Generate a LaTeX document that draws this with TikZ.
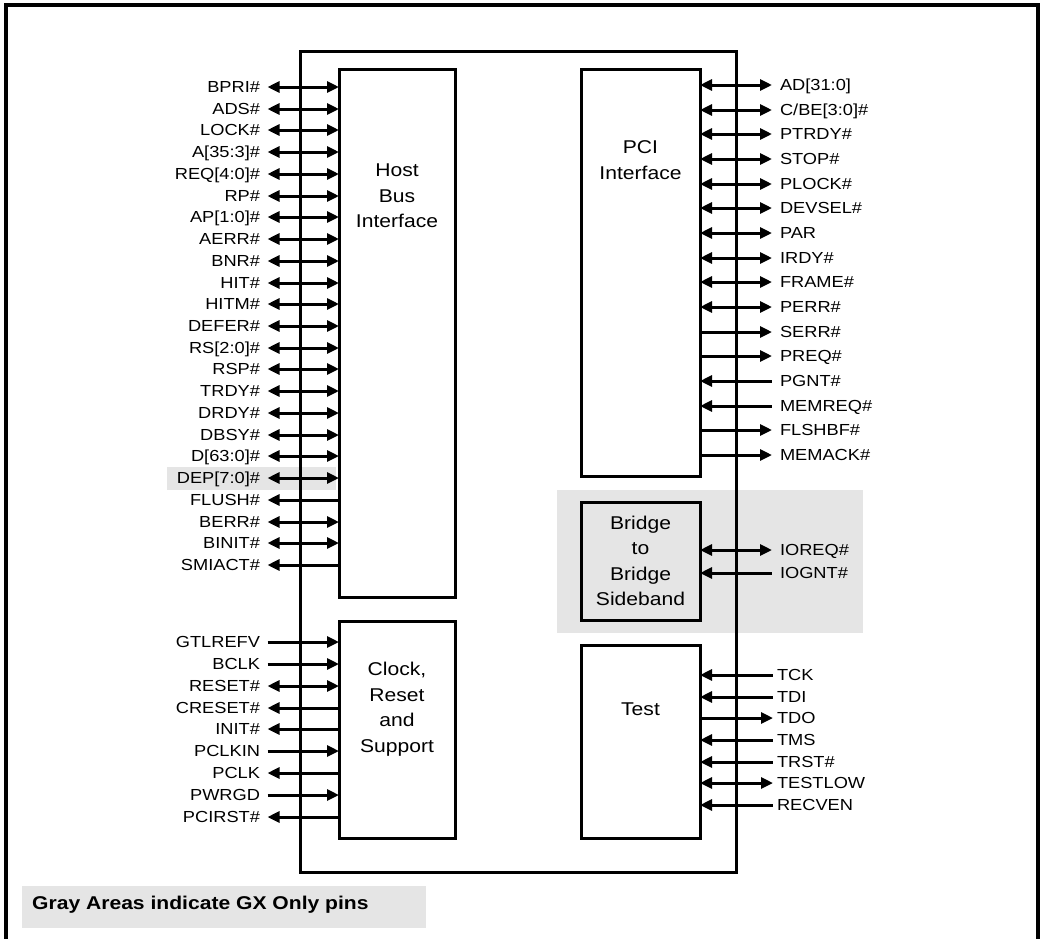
\documentclass[tikz,border=0pt]{standalone}
\usepackage{fontspec}
\setmainfont{Liberation Sans}[FakeStretch=1.14]
\usetikzlibrary{arrows.meta}
\definecolor{gxgray}{RGB}{229,229,229}
\begin{document}
\begin{tikzpicture}[x=1pt,y=-1pt,
  >={Triangle[length=12pt,width=11pt]},
  blk/.style={draw,line width=3pt,inner sep=0pt,outer sep=0pt},
  lbl/.style={inner sep=0pt,outer sep=0pt,font=\fontsize{16}{19}\selectfont,text height=11.5pt,text depth=0pt},
  boxtxt/.style={inner sep=0pt,align=center,font=\fontsize{18.5}{25.5}\selectfont},
  sig/.style={line width=3pt},
  frame/.style={line width=3.5pt}]
\useasboundingbox (0,0) rectangle (1041,938);
% gray areas
\fill[gxgray] (167,467) rectangle (336,490);
\fill[gxgray] (557,490) rectangle (863,633);
\fill[gxgray] (22,886) rectangle (426,928);
% outer frame
\draw[frame] (6,940) -- (6,5) -- (1038,5) -- (1038,940);
% chip and blocks
\node[blk,minimum width=436,minimum height=821] (chip) at (518,461.5) {};
\node[blk,minimum width=116,minimum height=528] (host) at (397,333) {};
\node[blk,minimum width=116,minimum height=217] (clock) at (397,729.5) {};
\node[blk,minimum width=119,minimum height=407] (pci) at (640.5,272.5) {};
\node[blk,minimum width=119,minimum height=118] (bridge) at (640.5,561) {};
\node[blk,minimum width=119,minimum height=193] (test) at (640.5,741.5) {};
% block texts
\node[boxtxt] (hosttxt) at (397,196) {Host\\Bus\\Interface};
\node[boxtxt] (pcitxt) at (640.5,160) {PCI\\Interface};
\node[boxtxt] (bridgetxt) at (640.5,561) {Bridge\\to\\Bridge\\Sideband};
\node[boxtxt] (clocktxt) at (397,709) {Clock,\\Reset\\and\\Support};
\node[boxtxt] (testtxt) at (640.5,709) {Test};
% host bus signals
\foreach \t/\d [count=\i from 0] in {{BPRI\#}/<->,{ADS\#}/<->,{LOCK\#}/<->,{A[35:3]\#}/<->,{REQ[4:0]\#}/<->,{RP\#}/<->,{AP[1:0]\#}/<->,{AERR\#}/<->,{BNR\#}/<->,{HIT\#}/<->,{HITM\#}/<->,{DEFER\#}/<->,{RS[2:0]\#}/<->,{RSP\#}/<->,{TRDY\#}/<->,{DRDY\#}/<->,{DBSY\#}/<->,{D[63:0]\#}/<->,{DEP[7:0]\#}/<->,{FLUSH\#}/<-,{BERR\#}/<->,{BINIT\#}/<->,{SMIACT\#}/<-}{
  \node[lbl,anchor=east] (L\i) at (260,{round(87+21.73*\i)}) {\t};
  \draw[sig,\d] ([xshift=7.5pt]L\i.east) -- (L\i.east -| host.west);
}
% clock signals
\foreach \t/\d [count=\i from 0] in {{GTLREFV}/->,{BCLK}/->,{RESET\#}/<->,{CRESET\#}/<-,{INIT\#}/<-,{PCLKIN}/->,{PCLK}/<-,{PWRGD}/->,{PCIRST\#}/<-}{
  \node[lbl,anchor=east] (C\i) at (260,{round(642+21.85*\i)}) {\t};
  \draw[sig,\d] ([xshift=7.5pt]C\i.east) -- (C\i.east -| clock.west);
}
% pci signals
\foreach \t/\d [count=\i from 0] in {{AD[31:0]}/<->,{C/BE[3:0]\#}/<->,{PTRDY\#}/<->,{STOP\#}/<->,{PLOCK\#}/<->,{DEVSEL\#}/<->,{PAR}/<->,{IRDY\#}/<->,{FRAME\#}/<->,{PERR\#}/<->,{SERR\#}/->,{PREQ\#}/->,{PGNT\#}/<-,{MEMREQ\#}/<-,{FLSHBF\#}/->,{MEMACK\#}/->}{
  \node[lbl,anchor=west] (P\i) at (780,{round(85+24.67*\i)}) {\t};
  \draw[sig,\d] (P\i.west -| pci.east) -- ([xshift=-8pt]P\i.west);
}
% bridge signals
\foreach \t/\d [count=\i from 0] in {{IOREQ\#}/<->,{IOGNT\#}/<-}{
  \node[lbl,anchor=west] (B\i) at (780,{550+23*\i}) {\t};
  \draw[sig,\d] (B\i.west -| bridge.east) -- ([xshift=-8pt]B\i.west);
}
% test signals
\foreach \t/\d [count=\i from 0] in {{TCK}/<-,{TDI}/<-,{TDO}/->,{TMS}/<-,{TRST\#}/<-,{TESTLOW}/<->,{RECVEN}/<-}{
  \node[lbl,anchor=west] (T\i) at (777,{round(675+21.7*\i)}) {\t};
  \draw[sig,\d] (T\i.west -| test.east) -- ([xshift=-4pt]T\i.west);
}
% legend
\node[anchor=west,inner sep=0pt,font=\bfseries\fontsize{18.5}{22}\selectfont] (legend) at (32,905) {Gray Areas indicate GX Only pins};
\end{tikzpicture}
\end{document}
